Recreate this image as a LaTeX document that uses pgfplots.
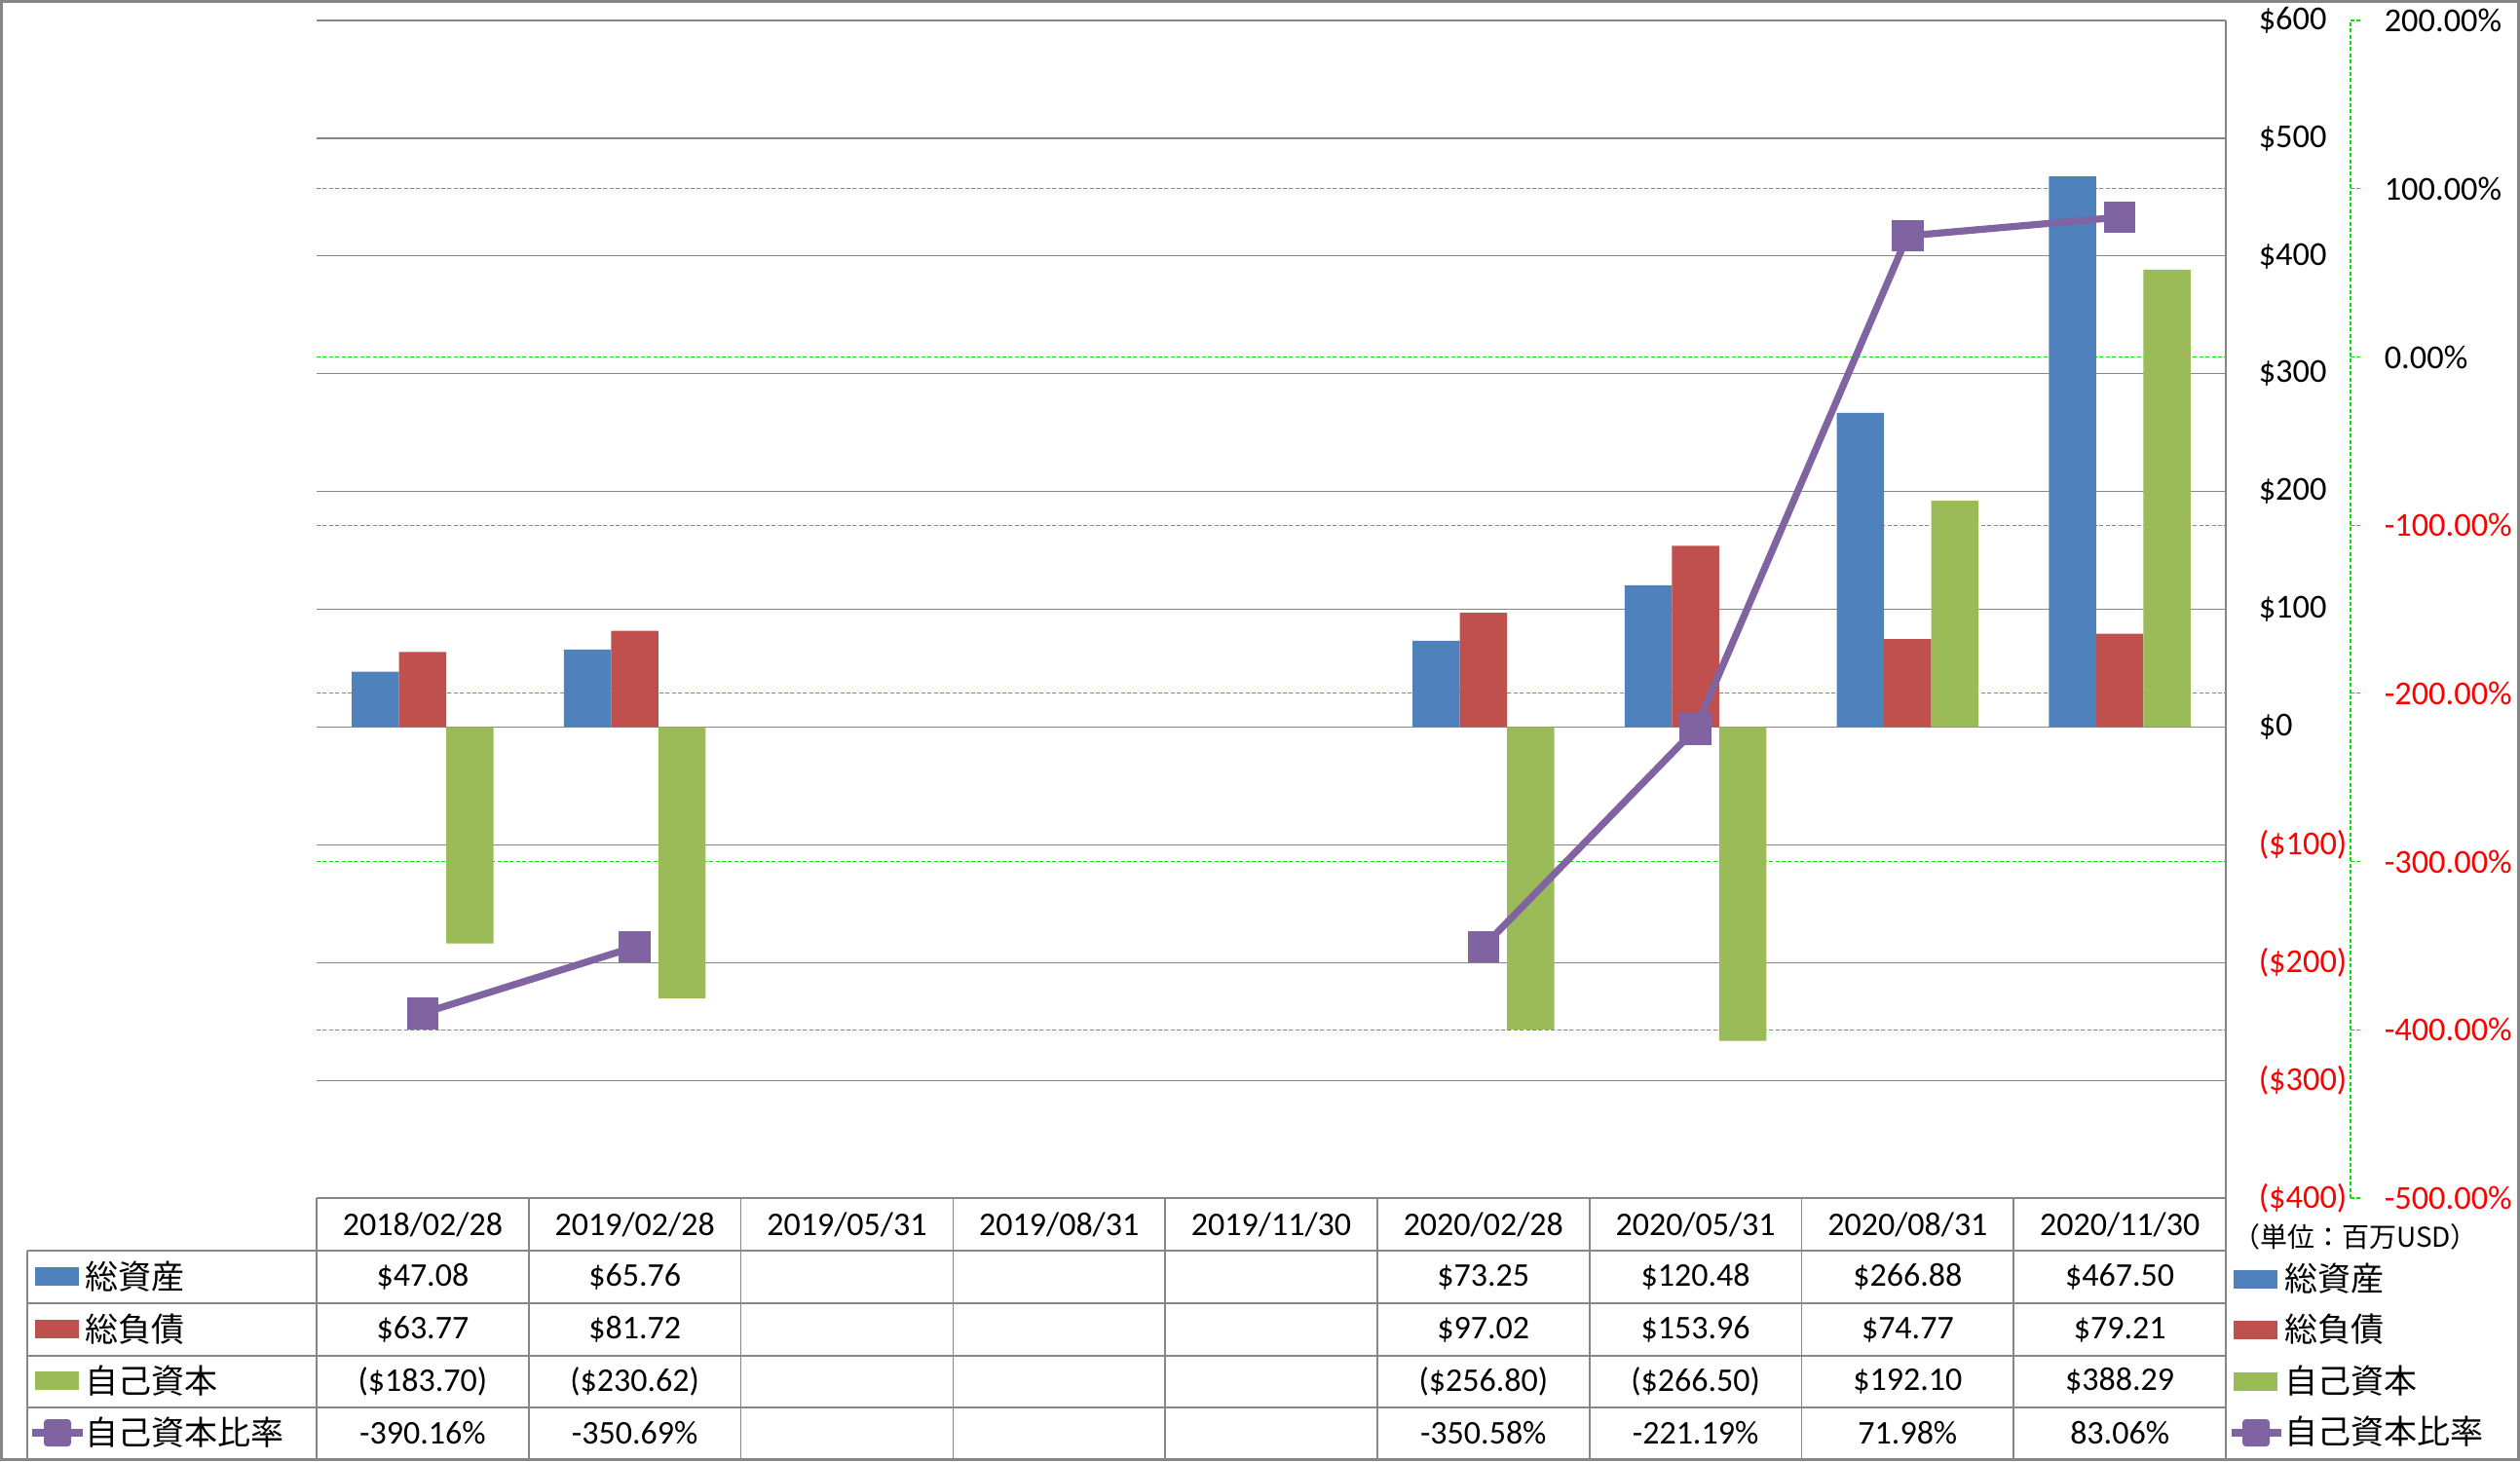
\documentclass[border=0pt]{standalone}
\usepackage{pgfplots}
\pgfplotsset{compat=1.18}
\usepackage{fontspec}
\setmainfont{Carlito}
\newfontfamily\cjk{Noto Sans CJK JP}
\definecolor{cblue}{HTML}{4F81BD}
\definecolor{cred}{HTML}{C0504D}
\definecolor{cgreen}{HTML}{9BBB59}
\definecolor{cpurple}{HTML}{8064A2}
\definecolor{gridgray}{HTML}{868686}
\definecolor{lime}{HTML}{00E600}
\newcommand{\tk}{\fontsize{8.6pt}{10pt}\selectfont}
\newcommand{\tb}{\fontsize{8.5pt}{10pt}\selectfont}
\newcommand{\jp}{\cjk\fontsize{8.5pt}{10pt}\selectfont}
\begin{document}
\begin{tikzpicture}
\useasboundingbox (0,0) rectangle (646.75pt,-375pt);
\pgfplotsset{
  base/.style={
    at={(81.25pt,-307.5pt)}, anchor=south west,
    width=490pt, height=302.25pt, scale only axis,
    xmin=-0.5, xmax=8.5, xtick=\empty,
    clip=false,
    /pgf/number format/assume math mode=true,
  }
}
% secondary axis: green grid and % labels
\begin{axis}[base,
  ymin=-500, ymax=200,
  axis x line=none, axis y line*=right,
  y axis line style={draw=none},
  ytick={-500,-400,...,200}, major tick length=0pt,
  yticklabels={{\color{red}-500.00\%},{\color{red}-400.00\%},{\color{red}-300.00\%},{\color{red}-200.00\%},{\color{red}-100.00\%},0.00\%,100.00\%,200.00\%},
  yticklabel style={anchor=west, inner sep=0pt, xshift=40.5pt, font=\tk},
  ymajorgrids, major grid style={draw=lime, dash pattern=on 1pt off 0.6pt, line width=0.3pt},
]
\draw[lime, dash pattern=on 1pt off 0.6pt, line width=0.3pt] ([xshift=32pt]rel axis cs:1,0) -- ([xshift=32pt]rel axis cs:1,1);
\pgfplotsinvokeforeach{-500,-400,-300,-200,-100,0,100,200}{
  \draw[lime, dash pattern=on 1pt off 0.6pt, line width=0.3pt] ([xshift=32pt]axis cs:8.5,#1) -- ([xshift=35pt]axis cs:8.5,#1);
}
\end{axis}
% primary axis: bars
\begin{axis}[base,
  ymin=-400, ymax=600,
  axis x line=none, axis y line*=right,
  y axis line style={draw=gridgray, line width=0.35pt},
  ytick={-400,-300,...,600}, major tick length=0pt,
  yticklabels={{\color{red}(\$400)},{\color{red}(\$300)},{\color{red}(\$200)},{\color{red}(\$100)},\$0,\$100,\$200,\$300,\$400,\$500,\$600},
  yticklabel style={anchor=west, inner sep=0pt, xshift=8.25pt, font=\tk},
  ymajorgrids, major grid style={draw=gridgray, line width=0.3pt},
  bar width=12.125pt,
]
\addplot[ybar, fill=cblue, draw=none, bar shift=-12.125pt] coordinates {(0,47.08) (1,65.76) (5,73.25) (6,120.48) (7,266.88) (8,467.50)};
\addplot[ybar, fill=cred, draw=none, bar shift=0pt] coordinates {(0,63.77) (1,81.72) (5,97.02) (6,153.96) (7,74.77) (8,79.21)};
\addplot[ybar, fill=cgreen, draw=none, bar shift=12.125pt] coordinates {(0,-183.70) (1,-230.62) (5,-256.80) (6,-266.50) (7,192.10) (8,388.29)};
\end{axis}
% line on secondary scale
\begin{axis}[base, ymin=-500, ymax=200, hide axis]
\addplot[cpurple, line width=1.8pt, unbounded coords=jump, mark=square*, mark size=3.9pt,
  mark options={fill=cpurple, draw=cpurple, rounded corners=0.9pt, line width=0.3pt}]
  coordinates {(0,-390.16) (1,-350.69) (2,nan) (3,nan) (4,nan) (5,-350.58) (6,-221.19) (7,71.98) (8,83.06)};
\end{axis}
% data table
\begin{scope}[x=0.25pt, y=-0.25pt]
\draw[gridgray, line width=0.4pt] (325,1230) -- (2285,1230);
\foreach \yy in {1284,1338,1392,1445} {\draw[gridgray, line width=0.4pt] (28,\yy) -- (2285,\yy);}
\draw[gridgray, line width=0.4pt] (28,1284) -- (28,1497);
\foreach \i in {0,...,9} {\draw[gridgray, line width=0.4pt] (325+\i*217.78,1230) -- (325+\i*217.78,1497);}
% header
\foreach \d [count=\i from 0] in {2018/02/28,2019/02/28,2019/05/31,2019/08/31,2019/11/30,2020/02/28,2020/05/31,2020/08/31,2020/11/30} {
  \node[font=\tb, inner sep=0pt] at (325+\i*217.78+108.89,1257) {\d};
}
% rows
\foreach \v [count=\i from 0] in {\$47.08,\$65.76,,,,\$73.25,\$120.48,\$266.88,\$467.50} {
  \node[font=\tb, inner sep=0pt] at (325+\i*217.78+108.89,1311) {\v};
}
\foreach \v [count=\i from 0] in {\$63.77,\$81.72,,,,\$97.02,\$153.96,\$74.77,\$79.21} {
  \node[font=\tb, inner sep=0pt] at (325+\i*217.78+108.89,1365) {\v};
}
\foreach \v [count=\i from 0] in {(\$183.70),(\$230.62),,,,(\$256.80),(\$266.50),\$192.10,\$388.29} {
  \node[font=\tb, inner sep=0pt] at (325+\i*217.78+108.89,1418) {\v};
}
\foreach \v [count=\i from 0] in {-390.16\%,-350.69\%,,,,-350.58\%,-221.19\%,71.98\%,83.06\%} {
  \node[font=\tb, inner sep=0pt] at (325+\i*217.78+108.89,1471) {\v};
}
% left legend keys
\fill[cblue] (36,1301) rectangle (81,1320);
\fill[cred] (36,1355) rectangle (81,1374);
\fill[cgreen] (36,1408) rectangle (81,1427);
\draw[cpurple, line width=1.8pt] (33,1471) -- (85,1471);
\fill[cpurple, rounded corners=0.9pt] (45,1457) rectangle (73,1485);
\node[font=\jp, anchor=west, inner sep=0pt] at (87,1311) {総資産};
\node[font=\jp, anchor=west, inner sep=0pt] at (87,1365) {総負債};
\node[font=\jp, anchor=west, inner sep=0pt] at (87,1418) {自己資本};
\node[font=\jp, anchor=west, inner sep=0pt] at (87,1471) {自己資本比率};
% unit
\node[font=\cjk\fontsize{7pt}{8pt}\selectfont, inner sep=0pt] at (2418,1270) {（単位：百万USD）};
% right legend
\fill[cblue] (2293,1304) rectangle (2338,1323);
\fill[cred] (2293,1356) rectangle (2338,1375);
\fill[cgreen] (2293,1409) rectangle (2338,1428);
\draw[cpurple, line width=1.8pt] (2291,1471) -- (2342,1471);
\fill[cpurple, rounded corners=0.9pt] (2302,1457) rectangle (2330,1485);
\node[font=\jp, anchor=west, inner sep=0pt] at (2345,1313) {総資産};
\node[font=\jp, anchor=west, inner sep=0pt] at (2345,1365) {総負債};
\node[font=\jp, anchor=west, inner sep=0pt] at (2345,1418) {自己資本};
\node[font=\jp, anchor=west, inner sep=0pt] at (2345,1470) {自己資本比率};
% frame
\draw[gridgray, line width=0.75pt] (1.5,1.5) rectangle (2585.5,1498.5);
\end{scope}
\end{tikzpicture}
\end{document}
